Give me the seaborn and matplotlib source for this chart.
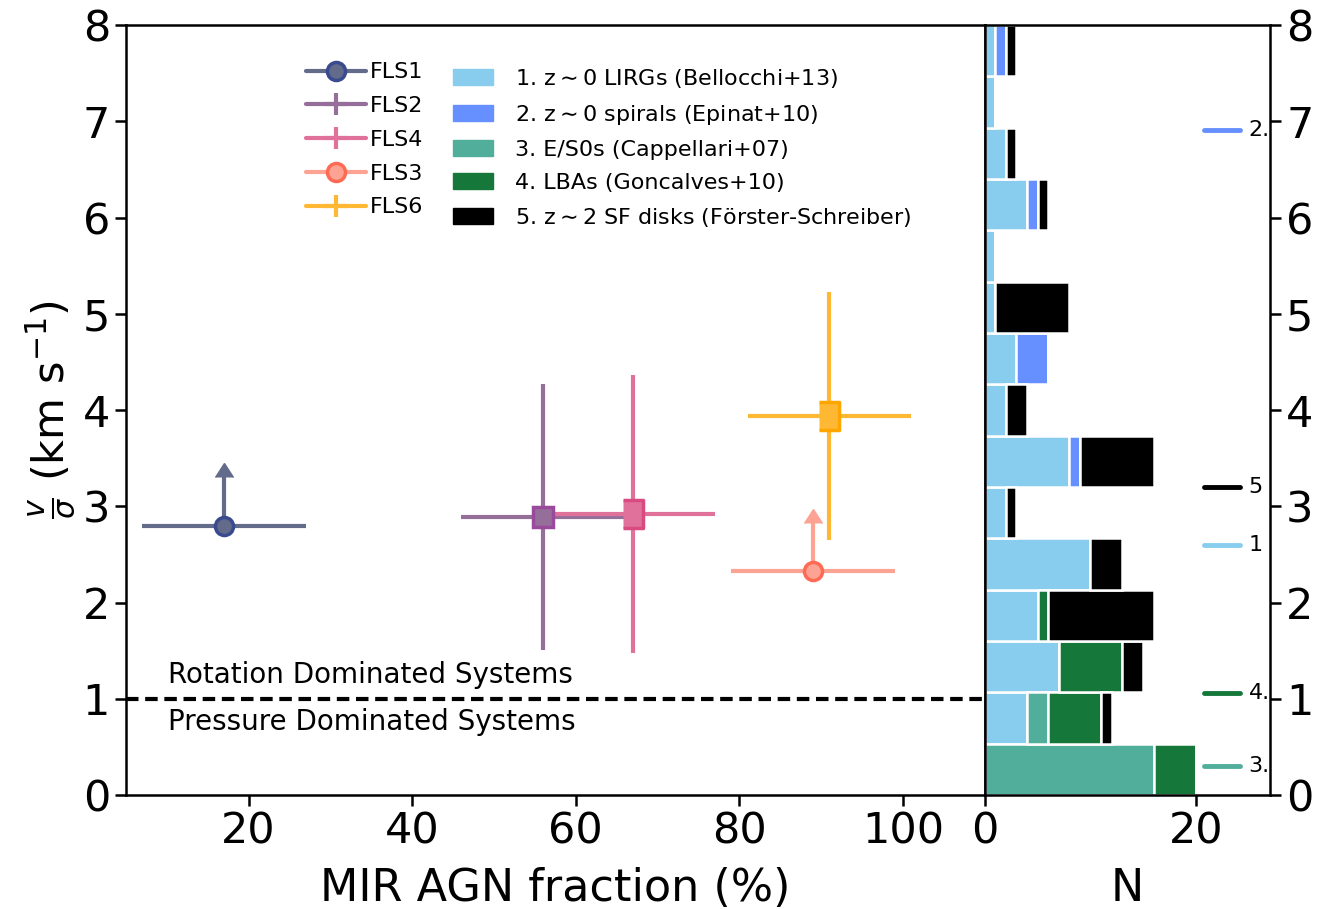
import numpy as np
import pandas as pd
import matplotlib
matplotlib.use("Agg")
import matplotlib.pyplot as plt
from matplotlib.patches import Patch
from matplotlib.lines import Line2D
import seaborn as sns

# ---------------- data ----------------
# FLS sources: MIR AGN fraction (%) and v/sigma
src_names = ["FLS1", "FLS2", "FLS4", "FLS3", "FLS6"]
src_agn = [17, 56, 67, 89, 91]
src_agn_err = [10, 10, 10, 10, 10]
src_vs = [2.80, 2.89, 2.92, 2.33, 3.94]
src_vs_err = [0.5, 1.38, 1.44, 0.5, 1.29]
src_is_lowlim = [True, False, False, True, False]
src_colors = ["#636b8b", "#956f9a", "#e0719a", "#fca394", "#ffb833"]
src_edge = ["#3a4a8e", "#9a4a9c", "#d84a80", "#ff6a55", "#ffa500"]

# comparison samples: v/sigma histogram counts (15 bins from 0 to 8)
n_bins = 15
bin_range = (0, 8)
sample_names = ["1. z$\\sim$0 LIRGs (Bellocchi+13)",
                "2. z$\\sim$0 spirals (Epinat+10)",
                "3. E/S0s (Cappellari+07)",
                "4. LBAs (Goncalves+10)",
                "5. z$\\sim$2 SF disks (Förster-Schreiber)"]
sample_colors = ["#89cdee", "#6690ff", "#50ae9a", "#15783a", "#000000"]
n_lirgs = [0, 4, 7, 5, 10, 2, 8, 2, 3, 1, 1, 4, 2, 1, 1]
n_spirals = [0, 0, 0, 0, 0, 0, 1, 0, 3, 0, 0, 1, 0, 0, 1]
n_es0 = [16, 2, 0, 0, 0, 0, 0, 0, 0, 0, 0, 0, 0, 0, 0]
n_lbas = [4, 5, 6, 1, 0, 0, 0, 0, 0, 0, 0, 0, 0, 0, 0]
n_sfdisks = [0, 1, 2, 10, 3, 1, 7, 2, 0, 7, 0, 1, 1, 0, 1]

# side markers on histogram panel
mark_tags = ["2.", "5", "1", "4.", "3."]
mark_vs = [6.91, 3.20, 2.60, 1.06, 0.30]
mark_colors = ["#6690ff", "#000000", "#89cdee", "#15783a", "#50ae9a"]

# ---------------- figure ----------------
sns.set_style("ticks")
plt.rcParams["font.family"] = ["DejaVu Sans"]
plt.rcParams.update({
    "axes.linewidth": 1.8, "axes.edgecolor": "black",
    "text.color": "black", "axes.labelcolor": "black",
    "xtick.color": "black", "ytick.color": "black",
})

fig = plt.figure(figsize=(13.32, 9.09), dpi=100)
gs = fig.add_gridspec(1, 2, width_ratios=[3.01, 1], wspace=0,
                      left=0.0946, right=0.9535, top=0.9725, bottom=0.1254)
ax = fig.add_subplot(gs[0])
axh = fig.add_subplot(gs[1], sharey=ax)

handles = []
for i, name in enumerate(src_names):
    c = src_colors[i]
    if src_is_lowlim[i]:
        ax.errorbar(src_agn[i], src_vs[i], xerr=src_agn_err[i], fmt="o",
                    color=c, ecolor=c, elinewidth=3, lw=3, ms=13,
                    mfc=c, mec=src_edge[i], mew=2.5, zorder=4)
        ax.errorbar(src_agn[i], src_vs[i], yerr=src_vs_err[i], lolims=True,
                    fmt="none", color=c, ecolor=c, elinewidth=3,
                    capsize=6.5, zorder=3)
        handles.append(Line2D([], [], color=c, lw=3, marker="o", ms=13,
                              mfc=c, mec=src_edge[i], mew=2.5))
    else:
        h = ax.errorbar(src_agn[i], src_vs[i], xerr=src_agn_err[i],
                        yerr=src_vs_err[i], fmt="-", color=c, lw=3,
                        ecolor=c, elinewidth=3, zorder=3)
        marker = "s" if name == "FLS2" else [(-0.72, -1), (0.72, -1), (0.72, 1), (-0.72, 1)]
        ms = 15 if name == "FLS2" else 20
        ax.plot(src_agn[i], src_vs[i], marker=marker, ms=ms, color=c,
                mec=src_edge[i], mew=2.5, ls="none", zorder=4)
        handles.append(h)

ax.axhline(1, color="black", ls="--", lw=3, dashes=(3, 1.6))
ax.text(10.1, 1.25, "Rotation Dominated Systems", fontsize=20, va="center")
ax.text(10.1, 0.76, "Pressure Dominated Systems", fontsize=20, va="center")

ax.set_xlim(5, 110)
ax.set_ylim(0, 8)
ax.set_xticks([20, 40, 60, 80, 100])
ax.set_yticks(range(0, 9))
ax.tick_params(labelsize=31, length=8, width=1.8, direction="out")
ax.set_xlabel("MIR AGN fraction (%)", fontsize=32, labelpad=10)
ax.set_ylabel(r"$\frac{v}{\sigma}$ (km s$^{-1}$)", fontsize=31)

leg1 = ax.legend(handles, src_names, loc="upper left",
                 bbox_to_anchor=(0.199, 0.963), frameon=False, fontsize=16,
                 handlelength=2.7, handletextpad=0.2, labelspacing=0.62,
                 borderaxespad=0)
ax.add_artist(leg1)
patches = [Patch(color=c) for c in sample_colors]
ax.legend(patches, sample_names, loc="upper left",
          bbox_to_anchor=(0.370, 0.957), frameon=False, fontsize=16,
          handlelength=1.8, handletextpad=1.0, labelspacing=0.58,
          borderaxespad=0)

# ---------------- histogram panel ----------------
bin_width = (bin_range[1] - bin_range[0]) / n_bins
centers = bin_range[0] + bin_width * (np.arange(n_bins) + 0.5)
rows = []
for name, counts in zip(sample_names,
                        [n_lirgs, n_spirals, n_es0, n_lbas, n_sfdisks]):
    for yc, n in zip(centers, counts):
        rows.append({"vs": yc, "n": n, "sample": name})
df = pd.DataFrame(rows)
sns.histplot(data=df, y="vs", weights="n", hue="sample",
             hue_order=sample_names[::-1],
             palette=dict(zip(sample_names, sample_colors)),
             bins=n_bins, binrange=bin_range, multiple="stack", alpha=1,
             edgecolor="white", linewidth=1.8, legend=False, ax=axh)

for tag, yv, c in zip(mark_tags, mark_vs, mark_colors):
    axh.plot([0.77, 0.895], [yv, yv], color=c, lw=3.5,
             transform=axh.get_yaxis_transform())
    axh.text(0.925, yv, tag, fontsize=16, va="center",
             transform=axh.get_yaxis_transform(), clip_on=True)

axh.set_xlim(0, 27)
axh.set_xticks([0, 20])
axh.set_xlabel("N", fontsize=32, labelpad=10)
axh.set_ylabel("")
axh.yaxis.tick_right()
axh.tick_params(axis="y", left=False, labelleft=False, right=True,
                labelright=True)
axh.tick_params(labelsize=31, length=8, width=1.8, direction="out")
axh.set_ylim(0, 8)
axh.set_yticks(range(0, 9))

fig.savefig("out.png", dpi=100)
